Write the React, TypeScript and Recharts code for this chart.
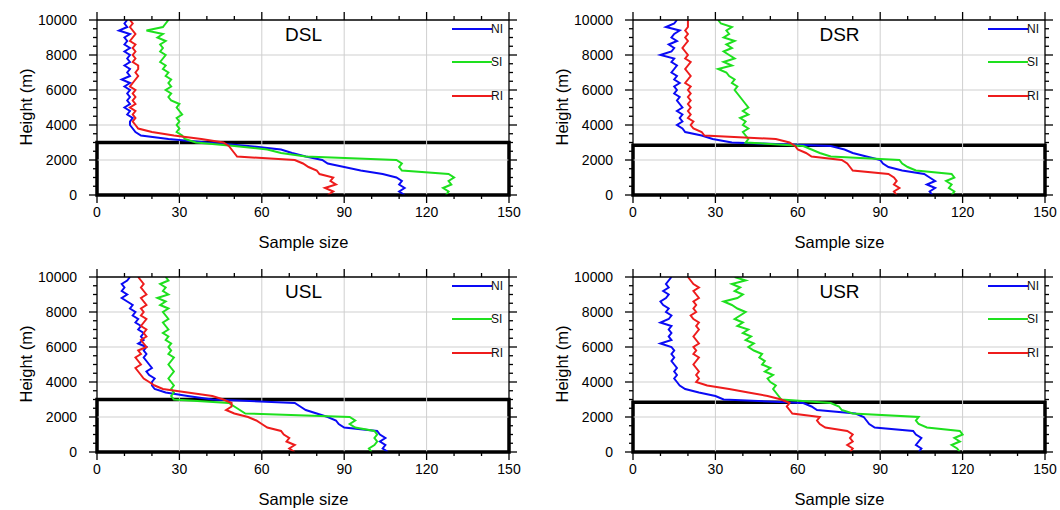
import React from 'react';
import { LineChart, Line, XAxis, YAxis, ReferenceLine, ReferenceArea, Legend } from 'recharts';

const HEIGHTS = [0, 200, 400, 600, 800, 1000, 1200, 1400, 1600, 1800, 2000, 2200, 2400, 2600, 2800, 3000, 3200, 3400, 3600, 3800, 4000, 4200, 4400, 4600, 4800, 5000, 5200, 5400, 5600, 5800, 6000, 6200, 6400, 6600, 6800, 7000, 7200, 7400, 7600, 7800, 8000, 8200, 8400, 8600, 8800, 9000, 9200, 9400, 9600, 9800, 10000];

const DSL_NI = [112, 110, 112, 110, 111, 109, 104, 96, 90, 84, 82, 76, 71, 67, 55, 40, 26, 16, 14, 13, 12, 12, 13, 11, 12, 10, 12, 11, 12, 11, 12, 10, 12, 9, 12, 11, 12, 10, 12, 11, 12, 10, 12, 10, 11, 10, 12, 8, 11, 10, 11];
const DSL_SI = [127, 128, 126, 129, 128, 130, 128, 111, 110, 111, 109, 76, 67, 62, 50, 36, 32, 31, 29, 30, 29, 30, 29, 31, 30, 29, 30, 27, 26, 27, 25, 27, 26, 27, 25, 26, 24, 25, 23, 24, 25, 23, 24, 23, 25, 22, 24, 18, 24, 25, 26];
const DSL_RI = [84, 86, 83, 87, 85, 86, 81, 80, 77, 75, 72, 51, 50, 49, 48, 46, 38, 28, 20, 15, 14, 13, 14, 13, 14, 12, 14, 13, 14, 13, 14, 12, 13, 14, 15, 14, 15, 15, 13, 14, 13, 14, 13, 14, 12, 13, 14, 13, 12, 13, 12];

const DSR_NI = [109, 108, 110, 107, 110, 108, 106, 98, 93, 91, 90, 85, 80, 77, 72, 36, 29, 25, 19, 18, 16, 18, 17, 18, 16, 18, 17, 16, 17, 15, 16, 15, 17, 15, 16, 14, 15, 16, 14, 15, 10, 14, 15, 13, 16, 14, 15, 17, 12, 15, 16];
const DSR_SI = [116, 117, 115, 116, 114, 117, 116, 103, 100, 98, 97, 72, 68, 65, 62, 41, 42, 41, 40, 42, 40, 41, 39, 42, 40, 42, 41, 40, 39, 38, 37, 38, 36, 37, 35, 34, 31, 36, 33, 37, 35, 33, 36, 34, 37, 33, 35, 34, 36, 32, 31];
const DSR_RI = [96, 95, 97, 95, 96, 95, 93, 80, 79, 78, 76, 65, 63, 60, 59, 57, 52, 26, 25, 22, 21, 22, 20, 21, 20, 21, 20, 21, 20, 21, 20, 21, 19, 20, 21, 20, 19, 20, 21, 19, 20, 19, 18, 19, 20, 19, 20, 19, 20, 20, 20];

const USL_NI = [106, 104, 105, 103, 105, 103, 102, 90, 88, 87, 84, 80, 76, 74, 72, 42, 33, 25, 21, 20, 20, 21, 19, 18, 20, 19, 18, 17, 18, 17, 18, 15, 17, 16, 17, 15, 16, 14, 15, 13, 14, 12, 13, 11, 9, 11, 9, 10, 9, 11, 12];
const USL_SI = [100, 99, 101, 102, 101, 102, 101, 94, 92, 94, 92, 54, 52, 50, 48, 28, 27, 28, 27, 28, 27, 26, 27, 28, 27, 26, 27, 28, 26, 27, 26, 27, 25, 26, 24, 26, 25, 24, 26, 25, 24, 26, 23, 25, 22, 26, 24, 25, 23, 26, 25];
const USL_RI = [72, 70, 72, 69, 70, 68, 67, 62, 60, 58, 55, 50, 47, 49, 49, 46, 42, 33, 24, 21, 19, 17, 16, 15, 14, 16, 15, 14, 16, 15, 18, 17, 16, 18, 17, 18, 16, 17, 18, 16, 17, 16, 18, 17, 16, 18, 17, 16, 17, 16, 15];

const USR_NI = [104, 105, 103, 104, 105, 103, 102, 88, 86, 85, 84, 81, 67, 65, 62, 33, 30, 24, 19, 17, 16, 15, 16, 15, 16, 15, 14, 15, 14, 15, 14, 10, 14, 13, 14, 13, 14, 10, 13, 14, 12, 13, 11, 10, 12, 13, 11, 13, 12, 13, 14];
const USR_SI = [119, 118, 116, 119, 117, 120, 119, 107, 104, 103, 104, 80, 76, 75, 72, 54, 53, 52, 51, 52, 50, 49, 51, 48, 50, 47, 48, 46, 47, 44, 42, 44, 41, 43, 40, 42, 38, 40, 37, 39, 41, 38, 36, 33, 38, 40, 37, 39, 36, 41, 37];
const USR_RI = [79, 80, 78, 80, 79, 80, 78, 70, 68, 67, 68, 58, 57, 56, 57, 54, 49, 42, 35, 27, 23, 24, 23, 24, 23, 22, 23, 24, 22, 23, 22, 24, 23, 22, 23, 24, 23, 24, 22, 21, 23, 22, 23, 22, 24, 23, 22, 24, 22, 21, 20];

const X_TICKS = [0, 10, 20, 30, 40, 50, 60, 70, 80, 90, 100, 110, 120, 130, 140, 150];
const Y_TICKS = [0, 500, 1000, 1500, 2000, 2500, 3000, 3500, 4000, 4500, 5000, 5500, 6000, 6500, 7000, 7500, 8000, 8500, 9000, 9500, 10000];
const X_GRID = [30, 60, 90, 120];
const Y_GRID = [2000, 4000, 6000, 8000];

const SERIES_NAMES = ['NI', 'SI', 'RI'];
const SERIES_COLORS = ['#0a0af5', '#1ee01e', '#ee1c1c'];

const BOX_TOP_LEFT = 3000;
const BOX_TOP_RIGHT = 2850;

const FONT = '"Liberation Sans", Arial, Helvetica, sans-serif';

const PANELS = [
  { title: 'DSL', series: [DSL_NI, DSL_SI, DSL_RI], boxTop: BOX_TOP_LEFT, left: 0, top: 0 },
  { title: 'DSR', series: [DSR_NI, DSR_SI, DSR_RI], boxTop: BOX_TOP_RIGHT, left: 536, top: 0 },
  { title: 'USL', series: [USL_NI, USL_SI, USL_RI], boxTop: BOX_TOP_LEFT, left: 0, top: 257 },
  { title: 'USR', series: [USR_NI, USR_SI, USR_RI], boxTop: BOX_TOP_RIGHT, left: 536, top: 257 },
];

const W = 523;
const H = 256;
const AXW = 97;
const MT = 19;
const XH = 61;
const MR = 13;
const PW = W - AXW - MR;
const PH = H - MT - XH;

const tickStroke = { stroke: '#000000', strokeWidth: 1.3 };

const BottomTick = (p: any) => {
  const { x, y, payload } = p;
  const v = payload.value;
  const major = v % 30 === 0;
  return (
    <g>
      <path d={`M${x},${y}L${x},${y + (major ? 8 : 4)}`} {...tickStroke} fill="none" />
      {major && (
        <text x={x} y={y + 22} textAnchor="middle" fontSize={14} fontFamily={FONT} fill="#000">
          {v}
        </text>
      )}
    </g>
  );
};

const TopTick = (p: any) => {
  const { x, y, payload } = p;
  const major = payload.value % 30 === 0;
  return <path d={`M${x},${y}L${x},${y - (major ? 8 : 4)}`} {...tickStroke} fill="none" />;
};

const LeftTick = (p: any) => {
  const { x, y, payload } = p;
  const v = payload.value;
  const major = v % 2000 === 0;
  return (
    <g>
      <path d={`M${x - (major ? 8 : 4)},${y}L${x},${y}`} {...tickStroke} fill="none" />
      {major && (
        <text x={x - 20} y={y + 5} textAnchor="end" fontSize={14} fontFamily={FONT} fill="#000">
          {v}
        </text>
      )}
    </g>
  );
};

const RightTick = (p: any) => {
  const { x, y, payload } = p;
  const major = payload.value % 2000 === 0;
  return <path d={`M${x},${y}L${x + (major ? 8 : 4)},${y}`} {...tickStroke} fill="none" />;
};

const LegendBox = () => (
  <div style={{ fontFamily: FONT }}>
    {SERIES_NAMES.map((n, i) => (
      <div key={n} style={{ height: 33.5, display: 'flex', alignItems: 'center' }}>
        <svg width={40} height={4} style={{ display: 'block' }}>
          <line x1={0} y1={2} x2={40} y2={2} stroke={SERIES_COLORS[i]} strokeWidth={2} />
        </svg>
        <span style={{ fontSize: 12, color: '#111', marginLeft: -1, lineHeight: '12px' }}>{n}</span>
      </div>
    ))}
  </div>
);

const Panel = ({ panel }: { panel: any }) => {
  const rows = HEIGHTS.map((h, i) => ({
    h,
    NI: panel.series[0][i],
    SI: panel.series[1][i],
    RI: panel.series[2][i],
  }));
  return (
    <div style={{ position: 'absolute', left: panel.left, top: panel.top, width: W, height: H }}>
      <LineChart
        width={W}
        height={H}
        data={rows}
        layout="vertical"
        margin={{ top: MT, right: MR, bottom: 0, left: 0 }}
      >
        <XAxis
          type="number"
          domain={[0, 150]}
          allowDataOverflow
          ticks={X_TICKS}
          interval={0}
          height={XH}
          tickSize={0}
          tickMargin={0}
          tickLine={false}
          axisLine={{ stroke: '#000', strokeWidth: 1.3 }}
          tick={(p: any) => <BottomTick {...p} />}
        />
        <XAxis
          xAxisId="top"
          orientation="top"
          type="number"
          domain={[0, 150]}
          allowDataOverflow
          ticks={X_TICKS}
          interval={0}
          height={1}
          tickSize={0}
          tickMargin={0}
          tickLine={false}
          axisLine={{ stroke: '#000', strokeWidth: 1.3 }}
          tick={(p: any) => <TopTick {...p} />}
        />
        <YAxis
          type="number"
          dataKey="h"
          domain={[0, 10000]}
          allowDataOverflow
          reversed
          ticks={Y_TICKS}
          interval={0}
          width={AXW}
          tickSize={0}
          tickMargin={0}
          tickLine={false}
          axisLine={{ stroke: '#000', strokeWidth: 1.3 }}
          tick={(p: any) => <LeftTick {...p} />}
        />
        <YAxis
          yAxisId="right"
          orientation="right"
          type="number"
          dataKey="h"
          domain={[0, 10000]}
          allowDataOverflow
          reversed
          ticks={Y_TICKS}
          interval={0}
          width={1}
          tickSize={0}
          tickMargin={0}
          tickLine={false}
          axisLine={{ stroke: '#000', strokeWidth: 1.3 }}
          tick={(p: any) => <RightTick {...p} />}
        />
        {X_GRID.map((v) => (
          <ReferenceLine key={'gx' + v} x={v} stroke="#cfcfcf" strokeWidth={1} ifOverflow="visible" />
        ))}
        {Y_GRID.map((v) => (
          <ReferenceLine key={'gy' + v} y={v} stroke="#cfcfcf" strokeWidth={1} ifOverflow="visible" />
        ))}
        {SERIES_NAMES.map((n, i) => (
          <Line
            key={n}
            dataKey={n}
            name={n}
            type="linear"
            stroke={SERIES_COLORS[i]}
            strokeWidth={2}
            dot={false}
            activeDot={false}
            isAnimationActive={false}
          />
        ))}
        <ReferenceArea
          x1={0}
          x2={150}
          y1={0}
          y2={panel.boxTop}
          fill="none"
          fillOpacity={0}
          stroke="#000"
          strokeWidth={3.5}
          ifOverflow="visible"
        />
        <Legend
          layout="vertical"
          align="center"
          verticalAlign="middle"
          content={() => <LegendBox />}
          wrapperStyle={{ left: 452, top: 12, width: 70, height: 101 }}
        />
      </LineChart>
      <div
        style={{
          position: 'absolute',
          left: AXW,
          width: PW,
          top: MT + 16 - 12,
          height: 24,
          lineHeight: '24px',
          textAlign: 'center',
          fontFamily: FONT,
          fontSize: 19,
          color: '#000',
        }}
      >
        {panel.title}
      </div>
      <div
        style={{
          position: 'absolute',
          left: AXW,
          width: PW,
          top: 242 - 10,
          height: 20,
          lineHeight: '20px',
          textAlign: 'center',
          fontFamily: FONT,
          fontSize: 16.5,
          color: '#000',
        }}
      >
        Sample size
      </div>
      <div
        style={{
          position: 'absolute',
          left: 25.5 - 60,
          width: 120,
          top: MT + PH / 2 - 10,
          height: 20,
          lineHeight: '20px',
          textAlign: 'center',
          fontFamily: FONT,
          fontSize: 16.5,
          color: '#000',
          transform: 'rotate(-90deg)',
        }}
      >
        Height (m)
      </div>
    </div>
  );
};

export default function App() {
  return (
    <div style={{ position: 'absolute', left: 0, top: 0, width: 1060, height: 510, background: '#fff', overflow: 'hidden' }}>
      {PANELS.map((p) => (
        <Panel key={p.title} panel={p} />
      ))}
    </div>
  );
}
